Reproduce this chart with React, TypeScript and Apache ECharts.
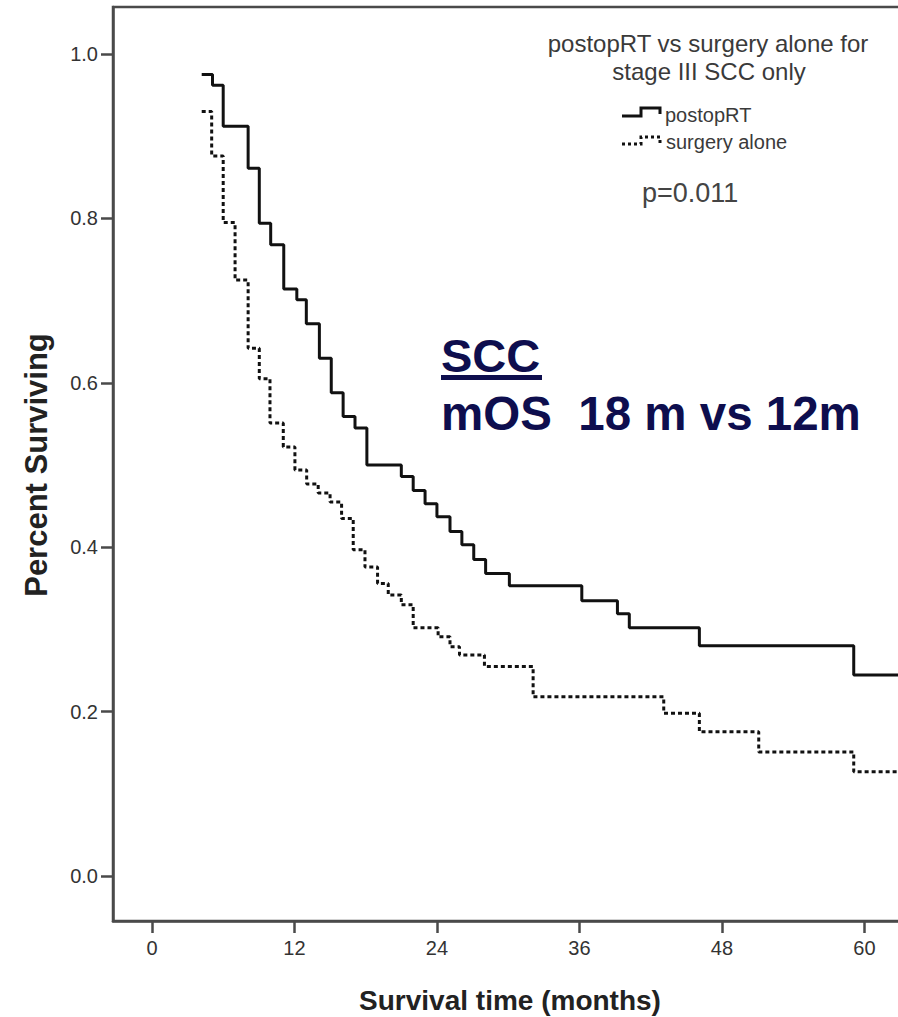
import React, { useEffect, useRef } from "react";
import * as echarts from "echarts";

// Kaplan-Meier steps: [time (months), survival after event]
const postopRT: [number, number][] = [
  [4.19, 0.975], [5.1, 0.962], [6.0, 0.912], [8.1, 0.861], [9.04, 0.794],
  [10.0, 0.768], [11.1, 0.714], [12.2, 0.701], [13.0, 0.672], [14.1, 0.63],
  [15.1, 0.588], [16.1, 0.559], [17.1, 0.545], [18.1, 0.5], [21.0, 0.486],
  [22.0, 0.469], [23.0, 0.453], [24.0, 0.437], [25.1, 0.419], [26.1, 0.403],
  [27.1, 0.385], [28.1, 0.368], [30.1, 0.353], [36.2, 0.335], [39.2, 0.319],
  [40.2, 0.302], [46.1, 0.28], [59.1, 0.2445], [66, 0.2445],
];
const surgeryAlone: [number, number][] = [
  [4.19, 0.93], [5.03, 0.876], [6.0, 0.795], [7.0, 0.725], [8.1, 0.642],
  [9.04, 0.605], [9.94, 0.551], [11.06, 0.522], [12.04, 0.494], [13.03, 0.477],
  [14.0, 0.466], [15.0, 0.455], [15.97, 0.435], [16.95, 0.397], [17.94, 0.376],
  [19.0, 0.356], [19.9, 0.342], [21.0, 0.33], [22.0, 0.302], [24.1, 0.291],
  [25.1, 0.279], [25.9, 0.269], [28.0, 0.255], [32.1, 0.218], [43.1, 0.198],
  [46.1, 0.1755], [51.1, 0.151], [59.1, 0.127], [66, 0.127],
];
const xTicks = [0, 12, 24, 36, 48, 60];
const yTicks = [0, 0.2, 0.4, 0.6, 0.8, 1.0];
const seriesNames = ["postopRT", "surgery alone"];
const titleLines = ["postopRT vs surgery alone for", "stage III SCC only"];
const pValue = "p=0.011";
const noteTitle = "SCC";
const noteBody = "mOS  18 m vs 12m";
const xTitle = "Survival time (months)";
const yTitle = "Percent Surviving";

const AX = "#4a4a4a";
const FONT = "'Liberation Sans', Arial, sans-serif";
const NAVY = "#0e0e4e";

export default function App() {
  const ref = useRef<HTMLDivElement>(null);
  useEffect(() => {
    if (!ref.current) return;
    const chart = echarts.init(ref.current, null, { renderer: "svg" });
    chart.setOption({
      animation: false,
      backgroundColor: "#ffffff",
      grid: {
        left: 113,
        top: 7,
        width: 795,
        height: 914,
        outerBoundsMode: "none",
        containLabel: false,
        show: true,
        borderColor: AX,
        borderWidth: 2.5,
        backgroundColor: "transparent",
      },
      xAxis: {
        type: "value",
        min: -3.28,
        max: 63.67,
        splitLine: { show: false },
        axisLine: { show: true, onZero: false, lineStyle: { color: AX, width: 2.5 } },
        axisTick: {
          show: true,
          length: 12,
          customValues: xTicks,
          lineStyle: { color: AX, width: 2.5 },
        },
        axisLabel: {
          customValues: xTicks,
          margin: 17,
          fontSize: 20,
          color: "#333",
          fontFamily: FONT,
        },
      },
      yAxis: {
        type: "value",
        min: -0.0547,
        max: 1.0572,
        splitLine: { show: false },
        axisLine: { show: true, onZero: false, lineStyle: { color: AX, width: 2.5 } },
        axisTick: {
          show: true,
          length: 12,
          customValues: yTicks,
          lineStyle: { color: AX, width: 2.5 },
        },
        axisLabel: {
          customValues: yTicks,
          margin: 15,
          fontSize: 20,
          color: "#333",
          fontFamily: FONT,
          formatter: (v: number) => v.toFixed(1),
        },
      },
      series: [
        {
          name: seriesNames[0],
          type: "line",
          step: "end",
          data: postopRT,
          showSymbol: false,
          lineStyle: { color: "#111", width: 3 },
        },
        {
          name: seriesNames[1],
          type: "line",
          step: "end",
          data: surgeryAlone,
          showSymbol: false,
          lineStyle: { color: "#111", width: 3, type: [4, 3] },
        },
      ],
      graphic: [
        {
          type: "text",
          x: 708,
          y: 43,
          style: {
            text: titleLines[0],
            fontSize: 24,
            fontFamily: FONT,
            fill: "#3a3a3a",
            align: "center",
            verticalAlign: "middle",
          },
        },
        {
          type: "text",
          x: 709,
          y: 71,
          style: {
            text: titleLines[1],
            fontSize: 24,
            fontFamily: FONT,
            fill: "#3a3a3a",
            align: "center",
            verticalAlign: "middle",
          },
        },
        {
          type: "polyline",
          shape: { points: [[622, 116], [641, 116], [641, 108], [660, 108], [660, 114]] },
          style: { stroke: "#111", lineWidth: 3, fill: null },
        },
        {
          type: "polyline",
          shape: { points: [[622, 144], [641, 144], [641, 137], [660, 137], [660, 143]] },
          style: { stroke: "#111", lineWidth: 3, fill: null, lineDash: [3, 3] },
        },
        {
          type: "text",
          x: 665,
          y: 115,
          style: {
            text: seriesNames[0],
            fontSize: 20,
            fontFamily: FONT,
            fill: "#3a3a3a",
            align: "left",
            verticalAlign: "middle",
          },
        },
        {
          type: "text",
          x: 666,
          y: 142,
          style: {
            text: seriesNames[1],
            fontSize: 20,
            fontFamily: FONT,
            fill: "#3a3a3a",
            align: "left",
            verticalAlign: "middle",
          },
        },
        {
          type: "text",
          x: 642,
          y: 193,
          style: {
            text: pValue,
            fontSize: 27,
            fontFamily: FONT,
            fill: "#444",
            align: "left",
            verticalAlign: "middle",
          },
        },
        {
          type: "text",
          x: 441,
          y: 355,
          style: {
            text: noteTitle,
            fontSize: 47,
            fontWeight: "bold",
            fontFamily: FONT,
            fill: NAVY,
            align: "left",
            verticalAlign: "middle",
          },
        },
        {
          type: "rect",
          shape: { x: 441, y: 375, width: 101, height: 5 },
          style: { fill: NAVY },
        },
        {
          type: "text",
          x: 441,
          y: 413,
          style: {
            text: noteBody,
            fontSize: 47.5,
            fontWeight: "bold",
            fontFamily: FONT,
            fill: NAVY,
            align: "left",
            verticalAlign: "middle",
          },
        },
        {
          type: "text",
          x: 510,
          y: 1000,
          style: {
            text: xTitle,
            fontSize: 28,
            fontWeight: "bold",
            fontFamily: FONT,
            fill: "#222",
            align: "center",
            verticalAlign: "middle",
          },
        },
        {
          type: "text",
          x: 36,
          y: 465,
          rotation: Math.PI / 2,
          style: {
            text: yTitle,
            fontSize: 31,
            fontWeight: "bold",
            fontFamily: FONT,
            fill: "#222",
            align: "center",
            verticalAlign: "middle",
          },
        },
      ],
    });
    return () => chart.dispose();
  }, []);
  return (
    <div
      ref={ref}
      style={{ position: "absolute", left: 0, top: 0, width: 898, height: 1017 }}
    />
  );
}
